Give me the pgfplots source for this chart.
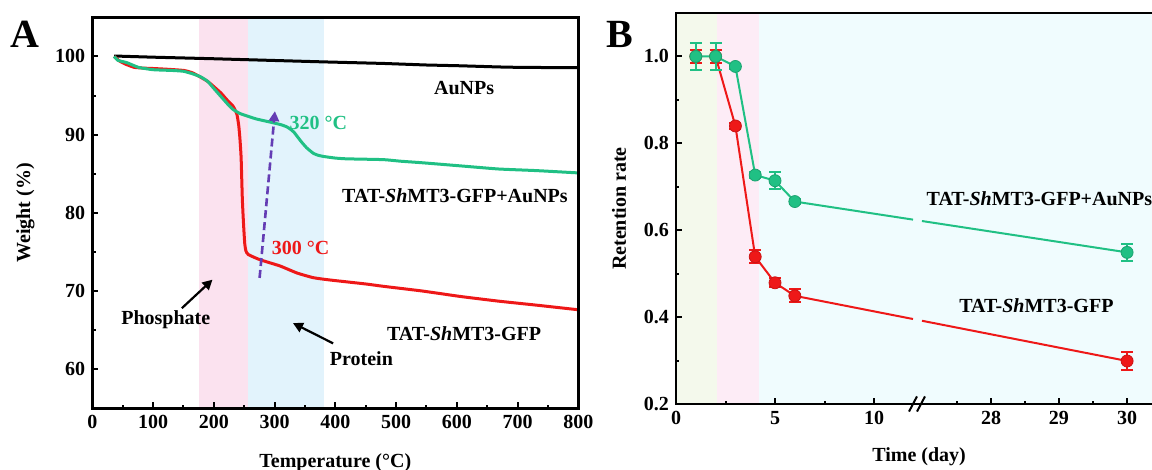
\documentclass[border=0pt]{standalone}
\usepackage{fontspec}
\setmainfont{Liberation Serif}
\usepackage{pgfplots}
\pgfplotsset{compat=1.18}
\usetikzlibrary{arrows.meta}
\definecolor{cgreen}{RGB}{32,192,132}
\definecolor{cred}{RGB}{238,24,24}
\definecolor{cpurple}{RGB}{100,60,180}
\definecolor{shpink}{RGB}{251,226,239}
\definecolor{shblue}{RGB}{226,243,252}
\definecolor{bylw}{RGB}{244,249,236}
\definecolor{bpink}{RGB}{253,236,246}
\definecolor{bcyan}{RGB}{240,252,254}
\pgfplotsset{
  common/.style={
    scale only axis, clip=false, axis on top,
    axis line style={line width=1.25pt},
    tick align=inside, xtick pos=bottom, ytick pos=left,
    major tick length=3pt, minor tick length=1.6pt,
    every tick/.style={black, line width=1pt},
    /pgf/number format/assume math mode=true,
    ticklabel style={font=\fontsize{10}{12}\selectfont\bfseries},
  }
}
\begin{document}
\begin{tikzpicture}
\path[use as bounding box] (0,0) rectangle (576pt,235pt);
\node[font=\fontsize{20}{24}\selectfont\bfseries] at (12.5pt,218pt) {A};
\node[font=\fontsize{20}{24}\selectfont\bfseries] at (310pt,218pt) {B};
% ---------------- Panel A ----------------
\begin{axis}[common,
  at={(46.15pt,30.85pt)}, anchor=south west,
  width=243pt, height=195.5pt,
  xmin=0, xmax=800, ymin=55, ymax=105,
  xtick={0,100,...,800}, minor xtick={50,150,...,750},
  ytick={60,70,80,90,100}, minor ytick={65,75,85,95},
  xlabel={Temperature (°C)}, ylabel={Weight (\%)},
  every axis x label/.style={at={(rel axis cs:0.5,0)}, anchor=center, yshift=-27pt, font=\fontsize{10}{12}\selectfont\bfseries},
  every axis y label/.style={at={(rel axis cs:0,0.5)}, xshift=-33.5pt, rotate=90, anchor=center, font=\fontsize{10}{12}\selectfont\bfseries},
]
\fill[shpink] (axis cs:175,55) rectangle (axis cs:257,105);
\fill[shblue] (axis cs:257,55) rectangle (axis cs:382,105);
\addplot[black, line width=1.5pt] coordinates {
(36,100.05)(100,99.9)(200,99.7)(290,99.5)(380,99.3)(479,99.1)(550,98.9)(606,98.8)(669,98.65)(700,98.6)(800,98.55)};
\addplot[cred, line width=1.5pt, smooth, tension=0.3] coordinates {
(36,100)(45,99.4)(55,99.0)(69,98.6)(85,98.5)(101,98.45)(125,98.35)(151,98.2)(165,97.9)(177,97.4)(190,96.8)(202,96.0)(212,95.3)(221,94.5)(232,93.6)(238,92.6)(241,91.2)(243,89.5)(245,87.0)(247,81.7)(249,78.5)(251,76.0)(253,75.1)(257,74.65)(276,74.0)(309,73.2)(337,72.3)(364,71.7)(392,71.4)(450,70.9)(479,70.6)(543,70.0)(606,69.3)(669,68.7)(730,68.2)(800,67.6)};
\addplot[cgreen, line width=1.5pt, smooth, tension=0.3] coordinates {
(36,100)(42,99.5)(57,99.2)(76,98.6)(100,98.3)(132,98.2)(150,98.1)(164,97.8)(178,97.4)(190,96.8)(199,96.0)(208,95.2)(216,94.5)(224,93.8)(232,93.2)(243,92.7)(254,92.4)(270,92.0)(287,91.7)(309,91.3)(320,91.0)(326,90.7)(332,90.3)(337,89.8)(345,89.0)(353,88.3)(364,87.6)(372,87.35)(381,87.2)(400,87.0)(419,86.9)(479,86.8)(507,86.6)(543,86.4)(606,86.0)(669,85.6)(730,85.4)(800,85.1)};
\draw[cpurple, line width=1.3pt, dash pattern=on 4pt off 2pt, -{Triangle[length=5pt,width=5pt]}] (axis cs:275.4,71.67) -- (axis cs:300.6,93.0);
\draw[black, line width=1.1pt, -{Triangle[length=5pt,width=5pt]}] (axis cs:147.4,67.8) -- (axis cs:197.9,71.45);
\draw[black, line width=1.1pt, -{Triangle[length=5pt,width=5pt]}] (axis cs:396.5,63.3) -- (axis cs:330.3,65.9);
\begin{scope}[every node/.style={font=\fontsize{10}{12}\selectfont\bfseries}]
\node at (axis cs:612,96.0) {AuNPs};
\node at (axis cs:597,82.2) {TAT-\textit{Sh}MT3-GFP+AuNPs};
\node at (axis cs:612,64.6) {TAT-\textit{Sh}MT3-GFP};
\node at (axis cs:121,66.3) {Phosphate};
\node at (axis cs:443,61.4) {Protein};
\node[text=cgreen] at (axis cs:372,91.45) {320 °C};
\node[text=cred] at (axis cs:343,75.5) {300 °C};
\end{scope}
\end{axis}
% ---------------- Panel B ----------------
\begin{axis}[common,
  at={(338pt,33pt)}, anchor=south west,
  width=240.6pt, height=195.5pt,
  xmin=0, xmax=24.3, ymin=0.2, ymax=1.1,
  xtick={0,5,10,15.91,19.34,22.78}, xticklabels={0,5,10,28,29,30},
  minor xtick={2.5,7.5,14.19,17.63,21.06},
  ytick={0.2,0.4,0.6,0.8,1.0}, minor ytick={0.3,0.5,0.7,0.9},
  yticklabel style={/pgf/number format/.cd, fixed, fixed zerofill, precision=1},
  xlabel={Time (day)}, ylabel={Retention rate},
  every axis x label/.style={at={(rel axis cs:0.5,0)}, anchor=center, yshift=-26.5pt, xshift=1.25pt, font=\fontsize{10}{12}\selectfont\bfseries},
  every axis y label/.style={at={(rel axis cs:0,0.5)}, xshift=-28.5pt, rotate=90, anchor=center, font=\fontsize{10}{12}\selectfont\bfseries},
  unbounded coords=jump,
]
\fill[bylw] (axis cs:0,0.2) rectangle (axis cs:2.07,1.1);
\fill[bpink] (axis cs:2.07,0.2) rectangle (axis cs:4.2,1.1);
\fill[bcyan] (axis cs:4.2,0.2) rectangle (axis cs:24.3,1.1);
% red series
\addplot[cred, line width=1pt] coordinates {(2,1.0)(3,0.840)(4,0.539)(5,0.479)(6,0.449)(11.97,0.3956)(12.2,nan)(12.42,0.3916)(22.78,0.299)};
\addplot[only marks, mark=*, mark size=3pt, mark options={fill=cred, draw=cred!85!black, line width=0.4pt},
  error bars/.cd, y dir=both, y explicit,
  error bar style={cred, line width=1pt},
  error mark options={cred, rotate=90, mark size=3pt, line width=1pt}]
  coordinates {(1,1.0)+-(0,0.016)(2,1.0)+-(0,0.016)(3,0.840)+-(0,0.006)(4,0.539)+-(0,0.015)(5,0.479)+-(0,0.01)(6,0.449)+-(0,0.015)(22.78,0.299)+-(0,0.02)};
% green series
\addplot[cgreen, line width=1pt] coordinates {(1,1.0)(2,1.0)(3,0.977)(4,0.727)(5,0.714)(6,0.666)(11.97,0.6244)(12.2,nan)(12.42,0.6212)(22.78,0.549)};
\addplot[only marks, mark=*, mark size=3pt, mark options={fill=cgreen, draw=cgreen!85!black, line width=0.4pt},
  error bars/.cd, y dir=both, y explicit,
  error bar style={cgreen, line width=1pt},
  error mark options={cgreen, rotate=90, mark size=3pt, line width=1pt}]
  coordinates {(1,1.0)+-(0,0.032)(2,1.0)+-(0,0.032)(3,0.977)+-(0,0.006)(4,0.727)+-(0,0.006)(5,0.714)+-(0,0.02)(6,0.666)+-(0,0.006)(22.78,0.549)+-(0,0.02)};
% axis break marks
\fill[white] ([xshift=-3.5pt,yshift=-3.5pt]axis cs:12.17,0.2) -- ([xshift=0.5pt,yshift=3.5pt]axis cs:12.17,0.2) -- ([xshift=3.5pt,yshift=3.5pt]axis cs:12.17,0.2) -- ([xshift=-0.5pt,yshift=-3.5pt]axis cs:12.17,0.2) -- cycle;
\draw[black, line width=1pt] ([xshift=-4pt,yshift=-3.8pt]axis cs:12.17,0.2) -- ([xshift=0pt,yshift=3.8pt]axis cs:12.17,0.2);
\draw[black, line width=1pt] ([xshift=0pt,yshift=-3.8pt]axis cs:12.17,0.2) -- ([xshift=4pt,yshift=3.8pt]axis cs:12.17,0.2);
\begin{scope}[every node/.style={font=\fontsize{10}{12}\selectfont\bfseries}]
\node[anchor=west] at (axis cs:12.3,0.672) {TAT-\textit{Sh}MT3-GFP+AuNPs};
\node at (axis cs:18.2,0.426) {TAT-\textit{Sh}MT3-GFP};
\end{scope}
\end{axis}
\end{tikzpicture}
\end{document}
